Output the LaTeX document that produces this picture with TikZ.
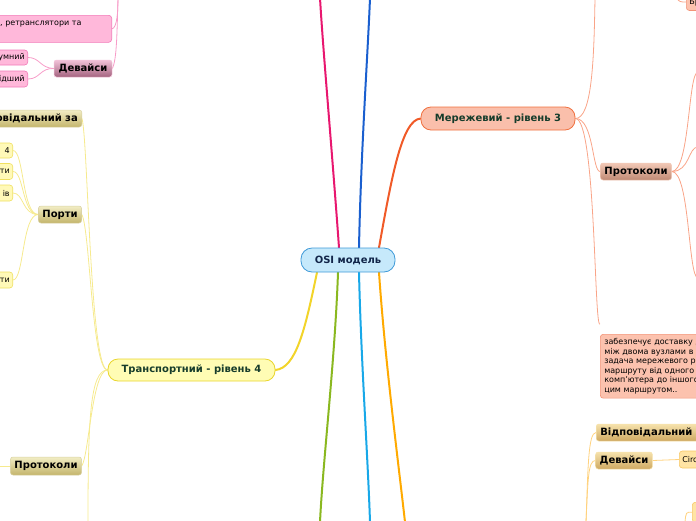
\documentclass[tikz,border=0pt]{standalone}
\usepackage{fontspec}
\setmainfont{DejaVu Sans}
\definecolor{rootfill}{HTML}{C6E9FB}
\definecolor{rootdraw}{HTML}{3F9AD8}
\definecolor{roottext}{HTML}{12264A}
\definecolor{leveltext}{HTML}{163C2B}
\definecolor{transfill}{HTML}{FFFCB4}
\definecolor{transdraw}{HTML}{E9D52C}
\definecolor{netfill}{HTML}{FABFAB}
\definecolor{netdraw}{HTML}{F0703F}
\definecolor{khakitop}{HTML}{F2EDC4}
\definecolor{khakibot}{HTML}{C4B56C}
\definecolor{khakidraw}{HTML}{D8D1A2}
\definecolor{mauvetop}{HTML}{F2C2D8}
\definecolor{mauvebot}{HTML}{A4637F}
\definecolor{salmtop}{HTML}{F2C8B6}
\definecolor{salmbot}{HTML}{C08A74}
\definecolor{goldtop}{HTML}{F6E2AC}
\definecolor{goldbot}{HTML}{CFA962}
\definecolor{pinkfill}{HTML}{FFB8DA}
\definecolor{pinkdraw}{HTML}{F27AB8}
\definecolor{yelfill}{HTML}{FFF9B8}
\definecolor{yeldraw}{HTML}{F0E060}
\definecolor{salfill}{HTML}{FCC2AE}
\definecolor{saldraw}{HTML}{F39478}
\definecolor{orfill}{HTML}{FFE4A4}
\definecolor{ordraw}{HTML}{F8C868}
\definecolor{brpink}{HTML}{E8176F}
\definecolor{brblue}{HTML}{1A5FCF}
\definecolor{brred}{HTML}{F05A28}
\definecolor{bryellow}{HTML}{F2D42A}
\definecolor{brgreen}{HTML}{8AB820}
\definecolor{brcyan}{HTML}{18A8E8}
\definecolor{brorange}{HTML}{FFAA00}
\definecolor{lnpink}{HTML}{F79CC8}
\definecolor{lnyellow}{HTML}{F6EA8E}
\definecolor{lnred}{HTML}{F9A488}
\definecolor{lnorange}{HTML}{FFD27E}
\pgfdeclarelayer{bg}
\pgfsetlayers{bg,main}
\begin{document}
\begin{tikzpicture}[x=1pt,y=-1pt,
  bigbox/.style={rounded corners=10pt, minimum height=22pt, inner sep=0pt, line width=0.8pt,
    font=\fontsize{10}{12}\selectfont\bfseries, text=leveltext},
  khaki/.style={rounded corners=2.5pt, draw=khakidraw, top color=khakitop, bottom color=khakibot,
    font=\fontsize{10}{12}\selectfont\bfseries, minimum height=17pt, inner ysep=0pt, inner xsep=4pt, line width=0.5pt},
  smallbox/.style={rounded corners=3pt, font=\fontsize{8}{9.6}\selectfont, inner xsep=3pt, inner ysep=0pt, line width=0.6pt},
  pinkbox/.style={smallbox, fill=pinkfill, draw=pinkdraw},
  yelbox/.style={smallbox, fill=yelfill, draw=yeldraw},
  branch/.style={line width=2pt, line cap=round},
  link/.style={line width=0.8pt}
]
\useasboundingbox (0,0) rectangle (696,520);
\clip (0,0) rectangle (696,520);

% ---------- main nodes
\node[bigbox, fill=rootfill, draw=rootdraw, text=roottext, minimum width=94pt, minimum height=24pt, rounded corners=11pt] (osi) at (348,260) {OSI модель};
\node[bigbox, fill=transfill, draw=transdraw, minimum width=167pt] (trans) at (191.5,370) {Транспортний - рівень 4};
\node[bigbox, fill=netfill, draw=netdraw, minimum width=154pt, minimum height=23pt] (net) at (498,118.5) {Мережевий - рівень 3};

% ---------- pink (top left)
\node[pinkbox, anchor=north east, minimum height=27pt, text width=118pt, align=right] (retr) at (112,15) {};
\node[font=\fontsize{8}{9.6}\selectfont, anchor=west, inner sep=0pt] (retrtxt) at (0,24) {, ретранслятори та};
\node[khaki, top color=mauvetop, bottom color=mauvebot, draw=mauvetop, minimum width=58pt] (devp) at (83,68.5) {Девайси};
\node[pinkbox, anchor=east, minimum height=15pt, text width=40pt, align=right] (umn) at (28,57.5) {умний};
\node[pinkbox, anchor=east, minimum height=16pt, text width=40pt, align=right] (idsh) at (28,79) {ідший};

% ---------- yellow (left)
\node[khaki, anchor=east, text width=100pt, align=right] (vidl) at (82,118.5) {овідальний за};
\node[khaki, minimum width=42pt] (porty) at (60,214.5) {Порти};
\node[khaki, minimum width=70pt, minimum height=18pt] (protl) at (46,466) {Протоколи};
\node[yelbox, anchor=east, minimum height=15pt, text width=30pt, align=right] (p1) at (13,150.5) {4};
\node[yelbox, anchor=east, minimum height=16pt, text width=30pt, align=right] (p2) at (13,171.5) {ти};
\node[yelbox, anchor=east, minimum height=16pt, text width=30pt, align=right] (p3) at (13,193) {ів};
\node[yelbox, anchor=east, minimum height=16pt, text width=30pt, align=right] (p4) at (13,280) {ти};
\coordinate (protlchild) at (-2,466);
\coordinate (transdown) at (88,522);

% ---------- red-orange (right top)
\node[khaki, top color=salmtop, bottom color=salmbot, draw=salmtop, minimum width=70pt] (protr) at (636,171.5) {Протоколи};
\node[smallbox, fill=salfill, draw=saldraw, anchor=north west, minimum height=63pt, text width=110pt, align=left, inner ysep=4pt, inner xsep=4pt] (zab) at (600,334)
  {забезпечує доставку д\\між двома вузлами в м\\задача мережевого рі\\маршруту від одного\\комп’ютера до іншого\\цим маршрутом..};
\node[smallbox, fill=salfill, draw=saldraw, anchor=west, minimum height=17pt, text width=30pt, align=left] (br) at (686,2) {Бр};
\coordinate (netup) at (595,-2);
\coordinate (brfrom) at (676,-2);
\coordinate (pr1) at (698,72);
\coordinate (pr2) at (698,147);
\coordinate (pr3) at (698,278);

% ---------- orange (right bottom)
\node[khaki, top color=goldtop, bottom color=goldbot, draw=goldtop, anchor=west, text width=120pt, align=left] (vidr) at (596,432.5) {Відповідальний з};
\node[khaki, top color=goldtop, bottom color=goldbot, draw=goldtop, minimum width=56pt] (devr) at (624,460.5) {Девайси};
\node[smallbox, fill=orfill, draw=ordraw, anchor=west, minimum height=17pt, text width=30pt, align=left] (circ) at (679,459.5) {Circ};
\node[smallbox, fill=orfill, draw=ordraw, anchor=north west, minimum height=20pt, minimum width=30pt] (lastr) at (692,502) {};
\coordinate (orbot) at (586,522);
\coordinate (lastrdown) at (685,522);

% ---------- branch ends off picture
\coordinate (pinkend) at (320,-2);
\coordinate (blueend) at (370,-2);
\coordinate (greenend) at (320,522);
\coordinate (cyanend) at (370,522);
\coordinate (orangeend) at (405,522);
\coordinate (pinktop) at (118,-2);

\begin{pgfonlayer}{bg}
% main branches
\draw[branch, brpink] ([xshift=-9pt]osi.north) .. controls (332,150) and (323,50) .. (pinkend);
\draw[branch, brblue] ([xshift=11pt]osi.north) .. controls (361,150) and (368,50) .. (blueend);
\draw[branch, brred] ([xshift=31pt]osi.north) .. controls (392,175) and (402,120) .. (net.west);
\draw[branch, bryellow] ([xshift=-31pt]osi.south) .. controls (305,330) and (296,368) .. (trans.east);
\draw[branch, brgreen] ([xshift=-10pt]osi.south) .. controls (335,360) and (323,460) .. (greenend);
\draw[branch, brcyan] ([xshift=11pt]osi.south) .. controls (361,360) and (368,460) .. (cyanend);
\draw[branch, brorange] ([xshift=31pt]osi.south) .. controls (385,360) and (398,460) .. (orangeend);

% pink links
\draw[link, lnpink] (pinktop) .. controls (117,30) and (117,60) .. (devp.east);
\draw[link, lnpink] (pinktop) .. controls (118,12) and (117,28) .. (retr.east);
\draw[link, lnpink] (devp.west) .. controls (40,68) and (40,57.5) .. (umn.east);
\draw[link, lnpink] (devp.west) .. controls (40,68) and (40,79) .. (idsh.east);

% yellow links
\draw[link, lnyellow] (trans.west) .. controls (90,370) and (88,140) .. (vidl.east);
\draw[link, lnyellow] (trans.west) .. controls (92,370) and (90,230) .. (porty.east);
\draw[link, lnyellow] (trans.west) .. controls (92,370) and (89,455) .. (protl.east);
\draw[link, lnyellow] (trans.west) .. controls (90,370) and (88,420) .. (transdown);
\draw[link, lnyellow] (protl.west) -- (protlchild);
\draw[link, lnyellow] (porty.west) .. controls (22,214.5) and (24,150.5) .. (p1.east);
\draw[link, lnyellow] (porty.west) .. controls (22,214.5) and (24,171.5) .. (p2.east);
\draw[link, lnyellow] (porty.west) .. controls (22,214.5) and (24,193) .. (p3.east);
\draw[link, lnyellow] (porty.west) .. controls (22,214.5) and (24,280) .. (p4.east);

% red links
\draw[link, lnred] (net.east) .. controls (592,118.5) and (594,60) .. (netup);
\draw[link, lnred] (net.east) .. controls (594,118.5) and (592,172) .. (protr.west);
\draw[link, lnred] (net.east) .. controls (596,118.5) and (594,330) .. ([yshift=10pt]zab.north west);
\draw[link, lnred] (brfrom) .. controls (680,2) .. (br.west);
\draw[link, lnred] (protr.east) .. controls (690,171.5) and (688,72) .. (pr1);
\draw[link, lnred] (protr.east) .. controls (690,171.5) and (688,147) .. (pr2);
\draw[link, lnred] (protr.east) .. controls (690,171.5) and (688,278) .. (pr3);

% orange links
\draw[link, lnorange] (orbot) .. controls (588,470) and (588,432.5) .. (vidr.west);
\draw[link, lnorange] (orbot) .. controls (588,480) and (588,460.5) .. (devr.west);
\draw[link, lnorange] (devr.east) -- (circ.west);
\draw[link, lnorange] (lastr.west) .. controls (686,512) .. (lastrdown);
\end{pgfonlayer}
\end{tikzpicture}
\end{document}
